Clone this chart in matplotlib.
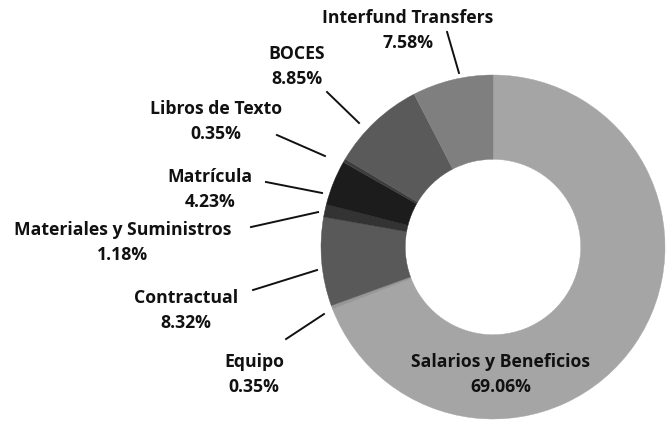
import matplotlib.pyplot as plt

plt.rcParams['font.family'] = ['Open Sans', 'DejaVu Sans']

# categories clockwise from 12 o'clock
categories = ['Salarios y Beneficios', 'Equipo', 'Contractual',
              'Materiales y Suministros', 'Matrícula', 'Libros de Texto',
              'BOCES', 'Interfund Transfers']
shares = [69.06, 0.35, 8.32, 1.18, 4.23, 0.35, 8.85, 7.58]
colors = ['#a5a5a5', '#979797', '#595959', '#333333',
          '#1c1c1c', '#3d3d3d', '#5a5a5a', '#7f7f7f']

# text placement (data units, pie radius = 1) for the labels
label_pos = {
    'Salarios y Beneficios': (0.045, -0.74),
    'Equipo': (-1.39, -0.74),
    'Contractual': (-1.785, -0.37),
    'Materiales y Suministros': (-2.154, 0.026),
    'Matrícula': (-1.645, 0.337),
    'Libros de Texto': (-1.61, 0.73),
    'BOCES': (-1.14, 1.052),
    'Interfund Transfers': (-0.494, 1.256),
}
# leader lines: (start near text, end near ring)
leaders = {
    'Equipo': ((-1.203, -0.535), (-0.983, -0.390)),
    'Contractual': ((-1.395, -0.25), (-1.023, -0.134)),
    'Materiales y Suministros': ((-1.407, 0.116), (-1.017, 0.203)),
    'Matrícula': ((-1.32, 0.378), (-0.994, 0.314)),
    'Libros de Texto': ((-1.256, 0.651), (-0.977, 0.529)),
    'BOCES': ((-0.965, 0.901), (-0.779, 0.721)),
    'Interfund Transfers': ((-0.267, 1.25), (-0.198, 1.012)),
}

fig = plt.figure(figsize=(6.68, 4.21), dpi=100)
ax = fig.add_axes([0, 0, 1, 1])

wedges, _ = ax.pie(shares, colors=colors, startangle=90, counterclock=False,
                   radius=1.0, wedgeprops=dict(width=0.49, linewidth=0.3))
for w, c in zip(wedges, colors):
    w.set_edgecolor(c)

for name, val in zip(categories, shares):
    tx, ty = label_pos[name]
    ax.text(tx, ty, f'{name}\n{val:.2f}%', ha='center', va='center',
            fontsize=12.7, fontweight='bold', color='#111111', linespacing=1.5)
    if name in leaders:
        (sx, sy), (ex, ey) = leaders[name]
        ax.plot([sx, ex], [sy, ey], color='#111111', lw=1.4)

ax.set_xlim(-493 / 172, (668 - 493) / 172)
ax.set_ylim(-(421 - 247) / 172, 247 / 172)
ax.set_aspect('equal')
ax.axis('off')

fig.savefig('out.png', dpi=100)
